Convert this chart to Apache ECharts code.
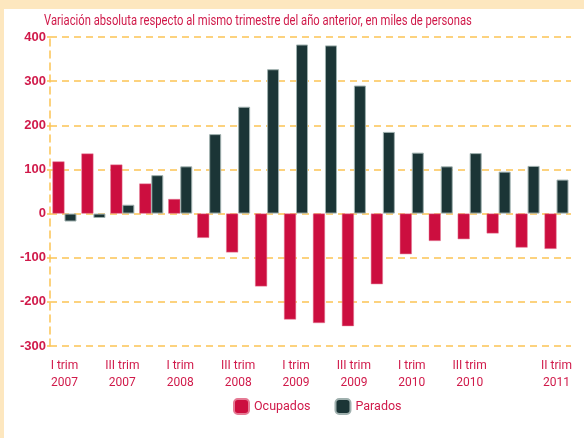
<!DOCTYPE html>
<html>
<head>
<meta charset="utf-8">
<script src="https://cdn.jsdelivr.net/npm/echarts@6/dist/echarts.min.js"></script>
<style>
  html, body { margin: 0; padding: 0; background: #fff; }
  #chart { width: 584px; height: 438px; }
</style>
</head>
<body>
<div id="chart"></div>
<script>
const categories = [
  'I trim\n2007', 'II trim\n2007', 'III trim\n2007', 'IV trim\n2007',
  'I trim\n2008', 'II trim\n2008', 'III trim\n2008', 'IV trim\n2008',
  'I trim\n2009', 'II trim\n2009', 'III trim\n2009', 'IV trim\n2009',
  'I trim\n2010', 'II trim\n2010', 'III trim\n2010', 'IV trim\n2010',
  'I trim\n2011', 'II trim\n2011'
];
const shownLabels = [0, 2, 4, 6, 8, 10, 12, 14, 17];
const ocupados = [118, 136, 111, 68, 33, -55, -88, -165, -240, -248, -255, -160, -92, -62, -58, -45, -77, -80];
const parados = [-18, -10, 20, 87, 107, 180, 242, 327, 383, 381, 290, 185, 138, 107, 137, 95, 108, 77];

const RED = '#cc0e3f';
const DARK = '#1b3536';
const TEXT = '#d01a4a';
const GRID = '#fcc454';
const FONT = "'Liberation Sans Narrow', 'Arial Narrow', Roboto, sans-serif";
const TITLE = 'Variación absoluta respecto al mismo trimestre del año anterior, en miles de personas';

const chart = echarts.init(document.getElementById('chart'), null, { renderer: 'canvas' });

chart.setOption({
  animation: false,
  backgroundColor: '#ffffff',
  graphic: [
    { type: 'rect', left: 0, top: 0, shape: { width: 584, height: 9 }, style: { fill: '#fde7bf' }, silent: true },
    { type: 'rect', left: 0, top: 0, shape: { width: 4, height: 438 }, style: { fill: '#fde7bf' }, silent: true },
    // condensed-looking title: no narrow font installed, so squeeze horizontally
    {
      type: 'text',
      x: 44,
      y: 13,
      scaleX: 0.725,
      silent: true,
      style: { text: TITLE, font: 'normal 15.5px ' + FONT, fill: TEXT }
    }
  ],
  legend: {
    bottom: 18,
    left: 228,
    itemWidth: 15,
    itemHeight: 15,
    itemGap: 24,
    textStyle: { fontFamily: FONT, fontSize: 12.5, color: TEXT },
    data: ['Ocupados', 'Parados']
  },
  grid: { left: 50, right: 13, top: 37, bottom: 92 },
  xAxis: {
    type: 'category',
    data: categories,
    axisLine: { show: false },
    axisTick: { show: false },
    axisLabel: {
      interval: (i) => shownLabels.includes(i),
      fontFamily: FONT,
      fontSize: 12,
      color: TEXT,
      lineHeight: 17,
      margin: 11
    }
  },
  yAxis: {
    type: 'value',
    min: -300,
    max: 400,
    interval: 100,
    axisLine: { show: true, lineStyle: { color: GRID, type: [7, 5], width: 1.5 } },
    axisTick: { show: true, length: 3, lineStyle: { color: GRID, width: 1.5 } },
    axisLabel: {
      fontFamily: "'Liberation Sans', Arial, sans-serif",
      fontSize: 13,
      fontWeight: 'bold',
      color: TEXT,
      margin: 4
    },
    splitLine: { show: true, lineStyle: { color: GRID, type: [7, 5], width: 1.5 } }
  },
  series: [
    {
      name: 'Ocupados',
      type: 'bar',
      data: ocupados,
      barWidth: 12,
      barGap: '0%',
      itemStyle: { color: RED, borderColor: '#e57a94', borderWidth: 0.5 }
    },
    {
      name: 'Parados',
      type: 'bar',
      data: parados,
      barWidth: 12,
      barGap: '0%',
      itemStyle: { color: DARK, borderColor: '#9fb0ae', borderWidth: 1 }
    }
  ]
});
</script>
</body>
</html>
